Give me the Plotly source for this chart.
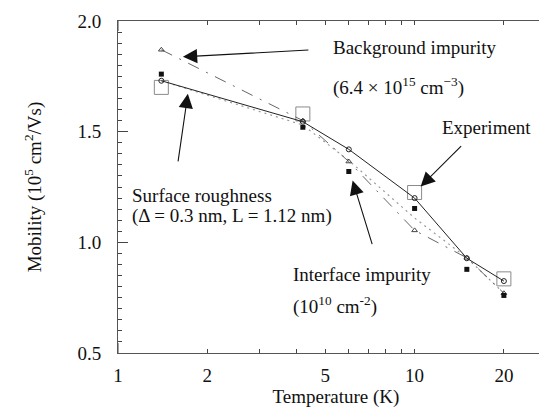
import math
import plotly.graph_objects as go

# Data
temps = [1.4, 4.2, 6, 10, 15, 20]
surface_roughness = [1.73, 1.545, 1.42, 1.20, 0.928, 0.825]
background = [1.87, 1.55, 1.365, 1.054, 0.93, 0.77]
interface_line = [1.73, 1.53, 1.37, 1.11, 0.93, 0.77]
interface_pts = [1.76, 1.52, 1.32, 1.153, 0.878, 0.76]
exp_temps = [1.4, 4.2, 10, 20]
experiment = [1.70, 1.58, 1.225, 0.835]

x_ticks = [1, 2, 5, 10, 20]
x_minor = [3, 4, 6, 7, 8, 9]

FONT = "Liberation Serif"

fig = go.Figure()
fig.add_trace(go.Scatter(x=exp_temps, y=experiment, mode="markers",
                         marker=dict(symbol="square-open", size=14, color="#8a8a8a",
                                     line=dict(width=1)), name="Experiment"))
fig.add_trace(go.Scatter(x=temps, y=interface_line, mode="lines",
                         line=dict(color="#999999", width=1.2, dash="2px,4px"),
                         name="Interface"))
fig.add_trace(go.Scatter(x=temps, y=background, mode="lines+markers",
                         line=dict(color="#666666", width=1, dash="12px,8px,2px,8px"),
                         marker=dict(symbol="triangle-up-open", size=5, color="#444444",
                                     line=dict(width=1)), name="Background"))
fig.add_trace(go.Scatter(x=temps, y=surface_roughness, mode="lines+markers",
                         line=dict(color="#222222", width=1),
                         marker=dict(symbol="circle-open", size=5, color="#222222",
                                     line=dict(width=1)), name="Surface"))
fig.add_trace(go.Scatter(x=temps, y=interface_pts, mode="markers",
                         marker=dict(symbol="square", size=5, color="#111111"),
                         name="Interface pts"))

# Texts
texts = [
    ("Background impurity", 0.489, 0.919),
    ("(6.4 × 10<sup>15</sup> cm<sup>−3</sup>)", 0.489, 0.804),
    ("Experiment", 0.739, 0.678),
    ("Surface roughness", 0.0275, 0.473),
    ("(Δ = 0.3 nm, L = 1.12 nm)", 0.0275, 0.413),
    ("Interface impurity", 0.397, 0.235),
    ("(10<sup>10</sup> cm<sup>-2</sup>)", 0.397, 0.142),
]
annots = []
for t, px, py in texts:
    annots.append(dict(text=t, x=px, y=py, xref="paper", yref="paper",
                       xanchor="left", yanchor="middle", showarrow=False,
                       font=dict(family=FONT, size=19, color="#111111")))

# Arrows (head position in data coords, tail as pixel offset)
arrows = [
    (1.655, 1.838, 127, -7),
    (10.48, 1.252, 42, -42),
    (1.72, 1.671, -10, 69),
    (6.18, 1.279, 20, 65),
]
for hx, hy, dx, dy in arrows:
    annots.append(dict(x=math.log10(hx), y=hy, xref="x", yref="y",
                       ax=dx, ay=dy, axref="pixel", ayref="pixel", text="",
                       showarrow=True, arrowhead=2, arrowsize=2.6, arrowwidth=1.1,
                       arrowcolor="#111111"))

shapes = [
    dict(type="line", xref="x", yref="paper", x0=1, x1=1, y0=0, y1=0.03,
         line=dict(color="#444444", width=1)),
    dict(type="line", xref="x", yref="paper", x0=1, x1=1, y0=0.97, y1=1,
         line=dict(color="#444444", width=1)),
]

fig.update_layout(
    width=547, height=408,
    margin=dict(l=110, r=1, t=13, b=63),
    paper_bgcolor="white", plot_bgcolor="white",
    showlegend=False,
    font=dict(family=FONT, size=19, color="#111111"),
    annotations=annots,
    shapes=shapes,
)
fig.update_xaxes(type="log", range=[0, 1.47], tickvals=x_ticks,
                 ticktext=[str(v) for v in x_ticks],
                 ticks="inside", ticklen=4, tickcolor="#444444",
                 minor=dict(tickvals=x_minor, ticks="inside", ticklen=4,
                            tickcolor="#444444"),
                 showline=True, linecolor="#555555", linewidth=1, mirror="ticks",
                 showgrid=False, zeroline=False, ticklabelstandoff=5,
                 title=dict(text="Temperature (K)", standoff=0,
                            font=dict(family=FONT, size=19)),
                 tickfont=dict(family=FONT, size=19))
fig.update_yaxes(range=[0.5, 2.0], tickvals=[0.5, 1.0, 1.5, 2.0],
                 ticktext=["0.5", "1.0", "1.5", "2.0"],
                 ticks="inside", ticklen=10, tickcolor="#444444",
                 minor=dict(dtick=0.05, ticks="inside", ticklen=4,
                            tickcolor="#444444"),
                 showline=True, linecolor="#555555", linewidth=1, mirror="ticks",
                 showgrid=False, zeroline=False, ticklabelstandoff=12,
                 title=dict(text="Mobility (10<sup>5</sup> cm<sup>2</sup>/Vs)", standoff=30,
                            font=dict(family=FONT, size=19)),
                 tickfont=dict(family=FONT, size=19))

fig.write_html("out.html")
